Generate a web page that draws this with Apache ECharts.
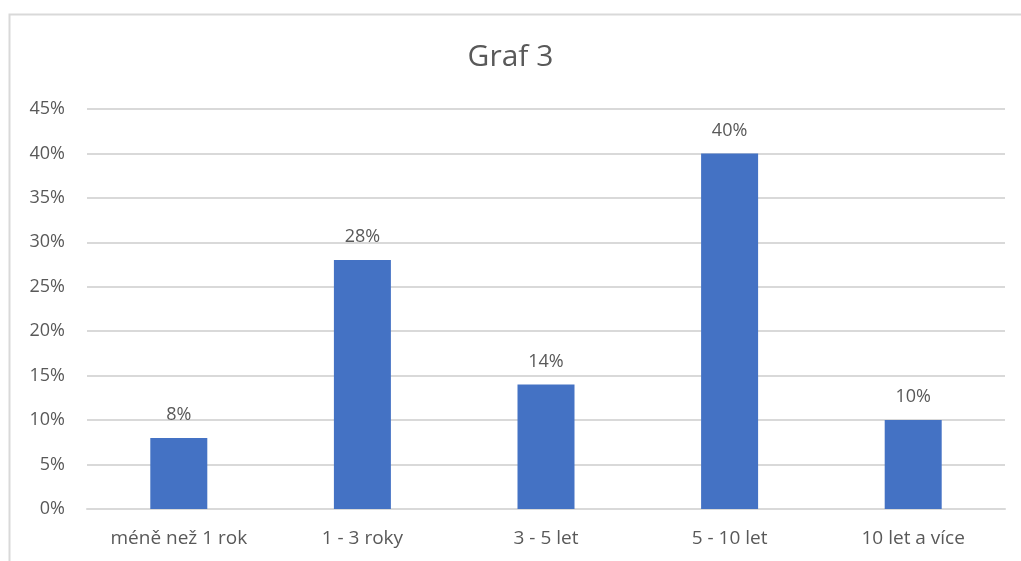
<!DOCTYPE html>
<html>
<head>
<meta charset="utf-8">
<script src="https://cdn.jsdelivr.net/npm/echarts@6/dist/echarts.min.js"></script>
<style>
html, body { margin: 0; padding: 0; background: #fff; }
#chart { width: 1021px; height: 561px; }
</style>
</head>
<body>
<div id="chart"></div>
<script>
var categories = ['méně než 1 rok', '1 - 3 roky', '3 - 5 let', '5 - 10 let', '10 let a více'];
var values = [8, 28, 14, 40, 10];
var yTicks = [0, 5, 10, 15, 20, 25, 30, 35, 40, 45];

var txt = '#595959';
var font = 'Open Sans';

var myChart = echarts.init(document.getElementById('chart'));
var option = {
	animation: false,
	textStyle: { fontFamily: font },
	graphic: [{
		type: 'rect',
		shape: { x: 9.5, y: 14.5, width: 1040, height: 600 },
		style: { fill: 'none', stroke: '#d9d9d9', lineWidth: 2 },
		silent: true
	}],
	title: {
		text: 'Graf 3',
		left: 'center',
		top: 37,
		textStyle: { color: txt, fontSize: 30, fontWeight: 'normal', fontFamily: font }
	},
	grid: { left: 87, right: 16, top: 109, bottom: 52 },
	xAxis: {
		type: 'category',
		data: categories,
		axisLine: { lineStyle: { color: '#d9d9d9', width: 2 } },
		axisTick: { show: false },
		axisLabel: { color: txt, fontSize: 19, margin: 20 }
	},
	yAxis: {
		type: 'value',
		min: yTicks[0],
		max: yTicks[yTicks.length - 1],
		interval: 5,
		axisLine: { show: false },
		axisTick: { show: false },
		splitLine: { lineStyle: { color: '#d9d9d9', width: 2 } },
		axisLabel: { color: txt, fontSize: 18, margin: 22, formatter: '{value}%' }
	},
	series: [{
		type: 'bar',
		data: values,
		barWidth: 57,
		itemStyle: { color: '#4472c4' },
		label: {
			show: true,
			position: 'top',
			distance: 14,
			color: txt,
			fontSize: 18,
			formatter: '{c}%'
		}
	}]
};
myChart.setOption(option);
</script>
</body>
</html>
